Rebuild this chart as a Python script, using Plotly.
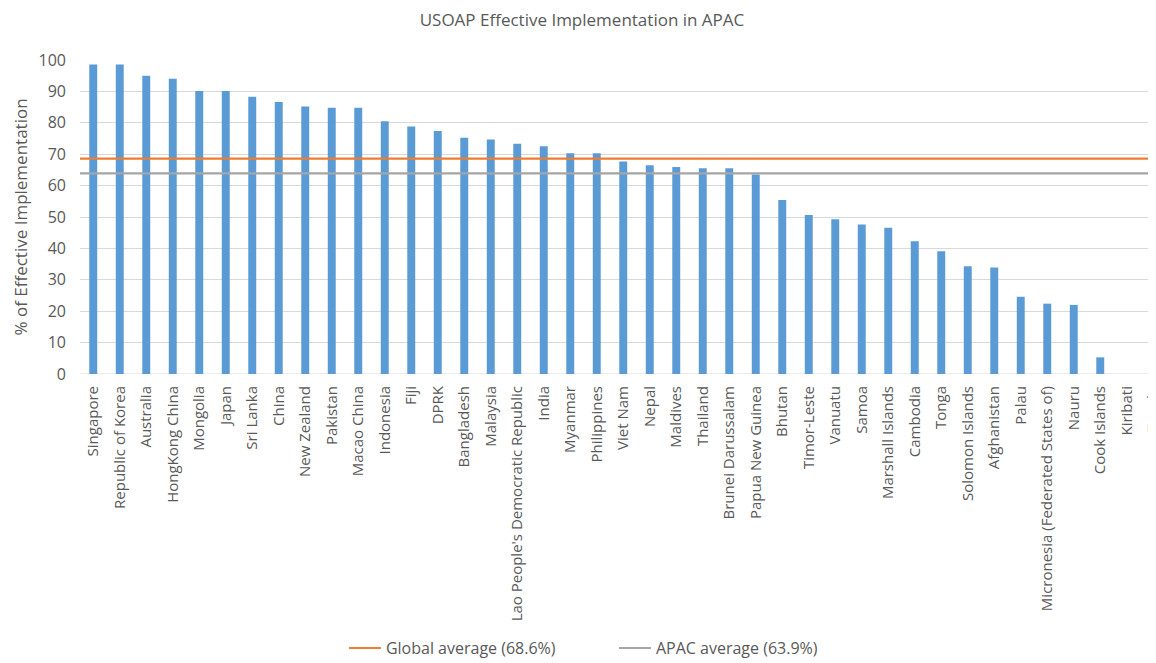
import plotly.graph_objects as go

countries = ["Singapore", "Republic of Korea", "Australia", "HongKong China", "Mongolia", "Japan",
             "Sri Lanka", "China", "New Zealand", "Pakistan", "Macao China", "Indonesia", "Fiji",
             "DPRK", "Bangladesh", "Malaysia", "Lao People's Democratic Republic", "India", "Myanmar",
             "Philippines", "Viet Nam", "Nepal", "Maldives", "Thailand", "Brunei Darussalam",
             "Papua New Guinea", "Bhutan", "Timor-Leste", "Vanuatu", "Samoa", "Marshall Islands",
             "Cambodia", "Tonga", "Solomon Islands", "Afghanistan", "Palau",
             "Micronesia (Federated States of)", "Nauru", "Cook Islands", "Kiribati", "Tuvalu"]
ei_values = [98.6, 98.6, 95.0, 94.0, 90.1, 90.1, 88.3, 86.6, 85.2, 84.8, 84.8, 80.5, 78.8,
             77.4, 75.2, 74.7, 73.3, 72.5, 70.3, 70.3, 67.7, 66.5, 65.9, 65.5, 65.5,
             63.5, 55.4, 50.6, 49.3, 47.6, 46.6, 42.3, 39.1, 34.3, 33.9, 24.6,
             22.4, 22.0, 5.3, 0, 0]
global_avg = 68.6
apac_avg = 63.9
y_ticks = [0, 10, 20, 30, 40, 50, 60, 70, 80, 90, 100]

n = len(countries)
idx = list(range(n))
TXT = "#595959"
FONT = "Open Sans"

fig = go.Figure()
fig.add_trace(go.Bar(x=idx, y=ei_values, width=0.3, marker=dict(color="#5B9BD5", line=dict(width=0)),
                     showlegend=False, name="EI"))
fig.add_trace(go.Scatter(x=[-0.5, n - 0.5], y=[global_avg, global_avg], mode="lines",
                         line=dict(color="#ED7D31", width=2.2), name="Global average (68.6%)"))
fig.add_trace(go.Scatter(x=[-0.5, n - 0.5], y=[apac_avg, apac_avg], mode="lines",
                         line=dict(color="#A5A5A5", width=2.2), name="APAC average (63.9%)"))

# The page body has an 8px margin, so the figure is 8px smaller and shifted.
fig.update_layout(
    width=1148, height=655,
    margin=dict(l=72, r=0, t=52, b=289, autoexpand=False),
    paper_bgcolor="white", plot_bgcolor="white",
    font=dict(family=FONT, color=TXT, size=13),
    title=dict(text="USOAP Effective Implementation in APAC", x=0.5, xanchor="center",
               yref="container", y=0.9817, yanchor="middle", automargin=False,
               font=dict(size=17, color=TXT, family=FONT)),
    xaxis=dict(tickmode="array", tickvals=idx, ticktext=countries, tickangle=-90,
               range=[-0.5, -0.5 + 1076 / 26.5], showgrid=False, zeroline=False,
               showline=False, ticks="", automargin=False, ticklabelstandoff=8,
               ticklabeloverflow="allow",
               tickfont=dict(size=15, color=TXT, family=FONT)),
    yaxis=dict(range=[0, 100], tickvals=y_ticks, showgrid=True, gridcolor="#D9D9D9",
               gridwidth=1, zeroline=False, showline=False, ticks="", automargin=False,
               ticklabelstandoff=13,
               tickfont=dict(size=16, color=TXT, family=FONT),
               title=dict(text="% of Effective Implementation", standoff=6,
                          font=dict(size=17, color=TXT, family=FONT))),
    legend=dict(orientation="h", x=0.2453, xanchor="left", y=-0.873, yanchor="middle",
                font=dict(size=16, color=TXT, family=FONT), itemwidth=32,
                entrywidth=223, entrywidthmode="pixels",
                bgcolor="rgba(0,0,0,0)"),
)
fig.add_shape(type="line", xref="paper", yref="y", x0=0, x1=1, y0=0, y1=0,
              line=dict(color="#D9D9D9", width=1), layer="below")

fig.write_html("out.html")
